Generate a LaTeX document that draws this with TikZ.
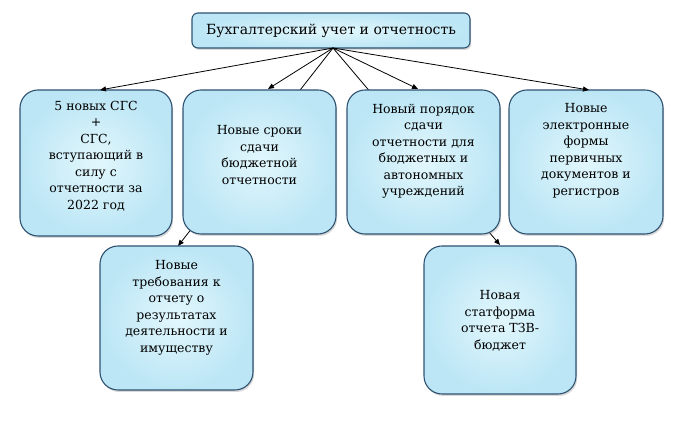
\documentclass[tikz,border=0pt]{standalone}
\usepackage{fontspec}
\setmainfont{DejaVu Serif}
\usetikzlibrary{shadows,arrows.meta}
\definecolor{boxin}{HTML}{E2F7FD}
\definecolor{boxout}{HTML}{BCE6F5}
\definecolor{boxline}{HTML}{2E5272}
\tikzset{
  bigbox/.style={draw=boxline, line width=1.1pt, rounded corners=18pt,
    inner color=boxin, outer color=boxout, inner sep=0pt, outer sep=0pt,
    drop shadow={opacity=0.3, shadow xshift=1.2pt, shadow yshift=-2pt}},
  topbox/.style={bigbox, rounded corners=6pt},
  boxtext/.style={align=center, inner sep=0pt, font=\fontsize{12.5}{16.5}\selectfont},
  arr/.style={draw=black, line width=0.8pt, -{Triangle[length=6pt,width=5pt]}}
}
\begin{document}
\begin{tikzpicture}[x=1pt,y=1pt]
\useasboundingbox (0,0) rectangle (674,430);
% boxes
\node[topbox, minimum width=278pt, minimum height=35pt] (top) at (331,399.5) {};
\node[boxtext, font=\fontsize{14}{16}\selectfont] (ttop) at (top.center) {Бухгалтерский учет и отчетность};
% connectors (drawn before lower boxes so they pass behind)
\coordinate (src) at ([xshift=2pt]top.south);
\coordinate (e1) at (100,340);
\coordinate (e2) at (268,341);
\coordinate (e3) at (418,341);
\coordinate (e4) at (589,340);
\coordinate (e5) at (178,184);
\coordinate (e6) at (500,185);
\draw[arr] (src) -- (e5);
\draw[arr] (src) -- (e6);
\node[bigbox, minimum width=152pt, minimum height=146pt] (b1) at (96,267) {};
\node[bigbox, minimum width=153pt, minimum height=144pt] (b2) at (259.5,268) {};
\node[bigbox, minimum width=153pt, minimum height=144pt] (b3) at (423.5,268) {};
\node[bigbox, minimum width=154pt, minimum height=144pt] (b4) at (586,268) {};
\node[bigbox, minimum width=153pt, minimum height=144pt] (b5) at (176.5,112) {};
\node[bigbox, minimum width=152pt, minimum height=148pt] (b6) at (500,110) {};
\draw[arr] (src) -- (e1);
\draw[arr] (src) -- (e2);
\draw[arr] (src) -- (e3);
\draw[arr] (src) -- (e4);
% texts
\node[boxtext] (t1) at ([yshift=7pt]b1.center) {5 новых СГС\\+\\СГС,\\вступающий в\\силу с\\отчетности за\\2022 год};
\node[boxtext] (t2) at ([yshift=7pt]b2.center) {Новые сроки\\сдачи\\бюджетной\\отчетности};
\node[boxtext] (t3) at ([yshift=11pt]b3.center) {Новый порядок\\сдачи\\отчетности для\\бюджетных и\\автономных\\учреждений};
\node[boxtext] (t4) at ([yshift=11pt]b4.center) {Новые\\электронные\\формы\\первичных\\документов и\\регистров};
\node[boxtext] (t5) at ([yshift=10pt]b5.center) {Новые\\требования к\\отчету о\\результатах\\деятельности и\\имуществу};
\node[boxtext] (t6) at ([yshift=-1pt]b6.center) {Новая\\статформа\\отчета ТЗВ-\\бюджет};
\end{tikzpicture}
\end{document}
